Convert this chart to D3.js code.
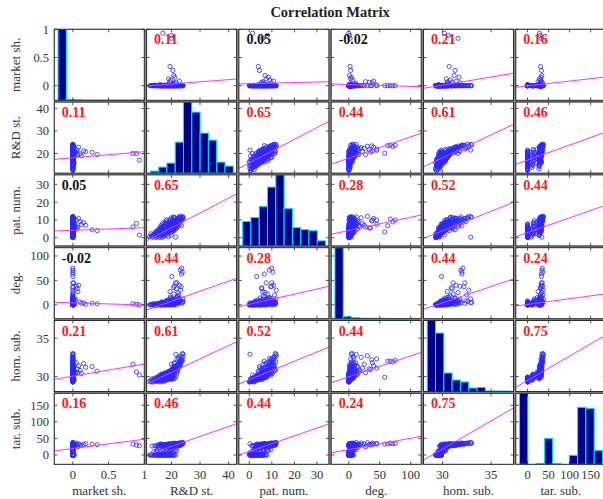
<!DOCTYPE html>
<html>
<head>
<meta charset="utf-8">
<script src="https://cdn.jsdelivr.net/npm/d3@7"></script>
<style>
  body { margin: 0; background: #fff; }
  text { font-family: "Liberation Serif", "Times New Roman", serif; }
</style>
</head>
<body>
<div id="chart-area"></div>
<script>
// variable names and axis setup
const names = ["market sh.", "R&D st.", "pat. num.", "deg.", "hom. sub.", "tar. sub."];
const limits = [[-0.26, 1.0], [11.3, 42.8], [-4.6, 35.3], [-28.5, 117], [28.05, 37.3], [-28, 186]];
const tickVals = [[0, 0.5, 1], [20, 30, 40], [0, 10, 20, 30], [0, 50, 100], [30, 35], [0, 50, 100, 150]];

// observations (one entry per firm)
const marketSh = [0,0,0,0.01,0,0,0,0,0.02,0, 0,0,0,0,0.01,0,0,0,0,0, 0,0,0,0,0,0,0,0,0,0,
  0,0,0,0,0,0,0,0,0,0, 0.07,0,0,0,0,0,0,0,0.01,0, 0,0,0,0,0,0,0,0,0.12,0.93,
  0.89,0,0,0.04,0,0,0,0,0,0, 0,0,0,0,0,0,0,0,0,0, 0,0,0,0.01,0.08,0.84,0.27,0.34,0.15,0.18,
  0.10,0.06,0,0,0,0,0,0,0,0.05, 0,
  0,0,0,0,0,0,0,0,0,0, 0,0,0,0.01,0,0,0,0,0,0,
  0,0,0,0,0,0,0,0,
  0,0,0,0,0,0,0,0,0.02,0, 0,0,0,0,0,0,0,0,0,0.01,
  0,0,0,0,0,0,0,0,0,0, 0,0,0,0,0,0.02,0,0,0,0.03];
const rdSt = [12.4,13.0,13.5,14.0,14.4,14.8,15.2,15.5,15.9,16.2, 16.5,16.8,17.1,17.4,17.7,18.0,18.3,18.6,19.0,19.4,
  19.8,20.3,20.8,21.5,16.0,17.0,13.8,15.0,16.4,17.2, 18.2,19.1,19.9,20.6,14.6,21.2,15.8,17.6,18.8,20.1,
  19.5,22.0,14.2,15.4,16.0,16.7,17.3,17.9,18.4,18.9, 19.3,19.7,20.2,20.7,21.1,21.6,22.1,22.6,19.0,17.0,
  20.0,13.2,18.1,20.5,16.9,23.0,15.6,16.6,17.5,18.5, 19.2,19.6,20.4,20.9,21.3,21.8,22.3,22.9,23.4,23.6,
  23.1,23.5,20.1,21.4,22.8,20.0,20.5,19.5,21.2,20.8, 19.8,21.7,23.8,24.0,22.6,23.2,21.9,23.9,22.4,21.0, 21.5,
  13.3,14.2,15.0,15.7,16.3,16.9,17.5,18.1,18.8,19.3, 19.9,20.5,14.7,16.6,17.9,18.9,20.0,21.0,15.3,12.8,
  14.9,16.0,17.0,18.0,18.7,19.6,20.4,21.8,
  15.1,16.3,17.1,17.8,18.6,19.0,19.5,20.0,20.4,20.9, 21.4,21.9,22.4,18.2,16.6,19.8,21.0,22.8,14.6,23.3,
  16.2,17.0,17.9,18.8,19.4,20.2,20.7,21.1,21.6,22.0, 22.5,23.0,23.7,18.3,19.9,20.6,21.5,22.7,24.1,19.0];
const patNum = [0.5,1.0,0.2,2.0,1.5,3.0,0.8,2.5,4.0,1.2, 3.5,0.3,5.0,2.2,6.0,3.0,4.5,1.8,7.0,5.5,
  2.8,6.5,4.0,7.8,0.0,1.0,1.5,3.0,2.0,4.8, 6.0,3.5,7.5,5.0,0.5,8.5,2.5,5.2,3.8,6.8,
  6.0,9.0,2.0,4.0,5.5,3.2,6.5,4.2,7.2,5.8, 8.0,4.8,9.2,5.5,7.8,10.0,6.2,8.8,7.5,1.5,
  8.0,1.2,9.5,6.0,8.2,11.0,3.8,6.0,7.8,5.2, 9.0,6.8,10.2,8.0,11.0,9.5,7.0,10.8,9.5,9.9,
  8.9,6.7,3.3,7.5,10.8,6.0,4.5,4.0,8.5,7.0, 9.0,5.5,10.5,11.8,11.2,12.0,10.0,11.5,9.0,9.8, 0.3,
  0.8,2.8,1.6,3.6,2.4,4.2,0.9,5.6,3.4,6.2, 4.6,7.4,0.2,5.8,2.0,0.6,1.4,5.2,4.6,2.2,
  2.0,3.8,6.6,2.6,8.0,4.4,9.6,6.4,
  2.6,6.8,3.8,8.6,6.2,3.0,10.2,6.6,8.4,4.2, 9.0,7.2,10.6,7.8,5.0,5.2,11.4,9.6,3.4,10.0,
  5.4,4.4,6.8,8.2,5.8,8.8,11.6,6.4,8.2,10.4, 9.0,7.6,10.8,10.0,11.2,6.0,4.8,11.8,11.0,7.0];
const degree = [0,1,0,2,0,1,3,0,2,0, 5,1,0,4,2,0,6,1,3,0, 8,2,0,5,0,1,2,0,5,1,
  8,3,12,2,0,6,1,4,10,2, 27,15,0,2,1,6,0,3,9,1, 4,14,2,35,7,3,18,5,3,0,
  1,0,2,11,4,9,1,3,0,7, 2,16,5,22,3,10,25,8,37,75, 71,63,58,45,40,2,3,2,4,1,
  6,33,67,12,20,30,45,5,8,38, 4,
  0,1,0,2,0,3,1,0,2,4, 1,6,0,2,0,1,3,0,1,0,
  1,0,3,6,2,0,9,4,
  1,0,2,5,1,0,7,3,12,2, 5,9,4,2,0,6,1,13,0,6,
  2,0,4,1,3,8,2,5,14,1, 6,11,3,0,2,4,9,4,7,1];
const homSub = [29.4,29.5,29.3,29.6,29.4,29.5,29.7,29.4,29.6,29.5, 29.8,29.4,29.7,29.6,29.9,29.5,29.8,29.6,29.9,29.7,
  29.8,29.9,29.7,29.9,29.3,29.4,29.6,29.7,29.9,29.8, 30.0,29.9,30.2,30.1,29.5,30.3,29.9,30.2,30.1,30.4,
  30.5,30.6,29.8,29.9,30.0,30.1,30.2,30.0,30.3,30.2, 30.4,30.3,30.6,30.9,30.7,31.0,30.8,31.2,30.4,30.2,
  30.6,29.7,30.5,30.5,30.3,31.4,30.1,30.3,30.4,30.5, 30.7,30.6,30.9,31.1,31.3,31.5,31.6,31.8,32.2,32.1,
  31.9,32.0,29.9,31.1,31.4,31.6,31.3,30.7,31.7,31.2, 30.8,31.0,32.0,32.9,32.5,32.7,32.3,33.0,32.4,31.8, 32.9,
  29.3,29.5,29.4,29.6,29.5,29.7,29.4,29.8,29.6,29.8, 29.7,29.9,29.4,29.6,29.5,29.7,29.6,29.8,29.6,29.3,
  29.6,29.8,29.9,29.8,30.1,30.0,30.2,30.3,
  29.9,30.0,30.1,30.2,30.3,30.1,30.4,30.5,30.6,30.5, 30.9,30.8,31.1,30.3,30.0,30.3,30.8,31.3,29.8,31.6,
  30.2,30.3,30.4,30.6,30.6,30.9,31.0,31.0,31.3,31.4, 31.6,31.8,32.3,30.5,30.8,30.8,31.1,31.9,32.6,30.5];
const tarSub = [0,0,0,0,0,0,0,0,0,0, 0,0,0,0,0,0,0,0,0,0, 0,0,0,0,1,2,10,12,14,11,
  15,13,16,10,9,14,21,24,22,26, 25,23,28,27,29,28,30,27,28,29, 30,28,27,30,29,28,30,29,28,28,
  30,27,29,28,30,29,32,33,31,32, 34,33,32,31,33,32,34,33,32,35, 34,33,33,33,33,33,33,31,32,34,
  31,32,36,38,36,37,35,36,35,36, 34,
  0,0,0,0,0,0,0,0,0,0, 0,0,0,0,0,0,0,0,0,0,
  13,10,15,12,14,11,16,13,
  28,30,27,29,28,30,29,28,27,30, 29,28,30,27,29,28,30,28,27,30,
  33,31,32,33,32,34,31,33,32,34, 33,32,34,31,32,33,31,33,34,32];

// correlation coefficients shown in the panels
const corr = [
  [1, 0.11, 0.05, -0.02, 0.21, 0.16],
  [0.11, 1, 0.65, 0.44, 0.61, 0.46],
  [0.05, 0.65, 1, 0.28, 0.52, 0.44],
  [-0.02, 0.44, 0.28, 1, 0.44, 0.24],
  [0.21, 0.61, 0.52, 0.44, 1, 0.75],
  [0.16, 0.46, 0.44, 0.24, 0.75, 1]
];

// least-squares line: fitted row-variable value at the column variable's lower / upper limit
const fitEnds = [
  [null, [-0.006, 0.118], [0.03, 0.07], [0.03, -0.018], [-0.047, 0.22], [-0.029, 0.155]],
  [[17.4, 20.8], null, [13.4, 34.3], [15.2, 29.0], [14.1, 32.95], [15.2, 29.5]],
  [[3.78, 5.63], [-1.68, 24.6], null, [1.92, 12.77], [-0.33, 19.9], [0.57, 18.3]],
  [[5.1, -0.43], [-10.7, 54.3], [-3.9, 37.9], null, [-9.2, 52.9], [-2.5, 22.5]],
  [[29.64, 31.63], [29.03, 34.53], [29.03, 33.84], [29.2, 33.15], null, [28.6, 35.4]],
  [[12.6, 47.5], [-0.2, 94.4], [-0.2, 93.8], [6.6, 56.5], [-15.2, 142], null]
];

// histogram bin ranges and counts (diagonal)
const histRange = [[0, 0.95], [12, 24.5], [0, 12], [0, 75], [29.3, 33.5], [0, 38]];
const histCounts = [
  [300, 4, 2, 1, 1, 1, 1, 1, 1, 2],
  [2, 6, 10, 31, 71, 61, 40, 33, 11, 7],
  [24, 28, 39, 58, 70, 37, 18, 16, 15, 5],
  [300, 9, 5, 2, 2, 2, 1, 1, 1, 1],
  [142, 117, 37, 23, 19, 7, 8, 1, 1, 1],
  [71, 0, 1, 26, 1, 0, 9, 57, 56, 14]
];

const vars = [marketSh, rdSt, patNum, degree, homSub, tarSub];

const W = 603, H = 499;
const x0 = 54.3, y0 = 29.3, stepX = 92.3, stepY = 72.8, pw = 90, ph = 71;

const svg = d3.select("#chart-area").append("svg")
    .attr("width", W)
    .attr("height", H);

const xs = limits.map((d, j) => d3.scaleLinear().domain(d).range([x0 + j * stepX, x0 + j * stepX + pw]));
const ys = limits.map((d, i) => d3.scaleLinear().domain(d).range([y0 + i * stepY + ph, y0 + i * stepY]));
const fmt = d3.format("~g");

svg.append("text")
    .attr("x", (x0 + x0 + 5 * stepX + pw) / 2)
    .attr("y", 17)
    .attr("text-anchor", "middle")
    .attr("font-weight", "bold")
    .attr("font-size", 14.5)
    .attr("fill", "#222")
    .text("Correlation Matrix");

// gray frame behind the grid
svg.append("rect")
    .attr("x", x0 - 0.5).attr("y", y0 - 0.5)
    .attr("width", 5 * stepX + pw + 1).attr("height", 5 * stepY + ph + 1)
    .attr("fill", "#8a8a8a");

const defs = svg.append("defs");

for (let i = 0; i < 6; i++) {
  for (let j = 0; j < 6; j++) {
    const px = x0 + j * stepX, py = y0 + i * stepY;
    const id = "clip" + i + "_" + j;
    defs.append("clipPath").attr("id", id)
      .append("rect").attr("x", px).attr("y", py).attr("width", pw).attr("height", ph);

    const g = svg.append("g");
    g.append("rect")
        .attr("x", px).attr("y", py).attr("width", pw).attr("height", ph)
        .attr("fill", "#fff");

    const inner = g.append("g").attr("clip-path", "url(#" + id + ")");

    if (i === j) {
      const [lo, hi] = histRange[i];
      const span = hi - lo;
      const hx = d3.scaleLinear().domain([lo - 0.045 * span, hi + 0.04 * span]).range([px, px + pw]);
      const hy = d3.scaleLinear().domain([0, d3.max(histCounts[i])]).range([py + ph, py]);
      const bw = span / histCounts[i].length;
      inner.selectAll("rect.bar")
        .data(histCounts[i]).enter()
          .append("rect")
            .attr("class", "bar")
            .attr("x", (d, k) => hx(lo + k * bw))
            .attr("width", hx(lo + bw) - hx(lo))
            .attr("y", d => hy(d))
            .attr("height", d => hy(0) - hy(d))
            .attr("fill", "#00008b")
            .attr("stroke", "#00e5ff")
            .attr("stroke-width", 1);
    } else {
      const xv = vars[j], yv = vars[i];
      inner.selectAll("circle")
        .data(d3.range(xv.length)).enter()
          .append("circle")
            .attr("cx", k => xs[j](xv[k]))
            .attr("cy", k => ys[i](yv[k]))
            .attr("r", 2.1)
            .attr("fill", "none")
            .attr("stroke", "#2a2aff")
            .attr("stroke-width", 0.8);

      const fe = fitEnds[i][j];
      inner.append("line")
          .attr("x1", xs[j](limits[j][0])).attr("y1", ys[i](fe[0]))
          .attr("x2", xs[j](limits[j][1])).attr("y2", ys[i](fe[1]))
          .attr("stroke", "#ff33ff")
          .attr("stroke-width", 1);

      const r = corr[i][j];
      g.append("text")
          .attr("x", px + 7.5)
          .attr("y", py + 15)
          .attr("font-weight", "bold")
          .attr("font-size", 14)
          .attr("fill", Math.abs(r) >= 0.1 ? "#ff1a1a" : "#111")
          .text(r.toFixed(2));
    }

    // border
    g.append("rect")
        .attr("x", px).attr("y", py).attr("width", pw).attr("height", ph)
        .attr("fill", "none")
        .attr("stroke", "#2b2b2b")
        .attr("stroke-width", 1);

    // inward ticks on all four sides
    tickVals[j].filter(t => t >= limits[j][0] && t <= limits[j][1]).forEach(t => {
      const tx = xs[j](t);
      g.append("line").attr("x1", tx).attr("x2", tx).attr("y1", py + ph).attr("y2", py + ph - 3)
        .attr("stroke", "#2b2b2b").attr("stroke-width", 0.8);
      g.append("line").attr("x1", tx).attr("x2", tx).attr("y1", py).attr("y2", py + 3)
        .attr("stroke", "#2b2b2b").attr("stroke-width", 0.8);
    });
    tickVals[i].filter(t => t >= limits[i][0] && t <= limits[i][1]).forEach(t => {
      const ty = ys[i](t);
      g.append("line").attr("y1", ty).attr("y2", ty).attr("x1", px).attr("x2", px + 3)
        .attr("stroke", "#2b2b2b").attr("stroke-width", 0.8);
      g.append("line").attr("y1", ty).attr("y2", ty).attr("x1", px + pw).attr("x2", px + pw - 3)
        .attr("stroke", "#2b2b2b").attr("stroke-width", 0.8);
    });
  }
}

// bottom tick labels and variable names
for (let j = 0; j < 6; j++) {
  tickVals[j].forEach(t => {
    svg.append("text")
        .attr("x", xs[j](t))
        .attr("y", 479)
        .attr("text-anchor", "middle")
        .attr("font-size", 12.5)
        .attr("fill", "#333")
        .text(fmt(t));
  });
  svg.append("text")
      .attr("x", x0 + j * stepX + pw / 2)
      .attr("y", 495)
      .attr("text-anchor", "middle")
      .attr("font-size", 13)
      .attr("fill", "#333")
      .text(names[j]);
}

// left tick labels and variable names
for (let i = 0; i < 6; i++) {
  tickVals[i].forEach(t => {
    svg.append("text")
        .attr("x", 49)
        .attr("y", ys[i](t))
        .attr("dy", "0.35em")
        .attr("text-anchor", "end")
        .attr("font-size", 12.5)
        .attr("fill", "#333")
        .text(fmt(t));
  });
  svg.append("text")
      .attr("transform", "translate(15," + (y0 + i * stepY + ph / 2) + ") rotate(-90)")
      .attr("text-anchor", "middle")
      .attr("dy", "0.35em")
      .attr("font-size", 13)
      .attr("fill", "#333")
      .text(names[i]);
}
</script>
</body>
</html>
